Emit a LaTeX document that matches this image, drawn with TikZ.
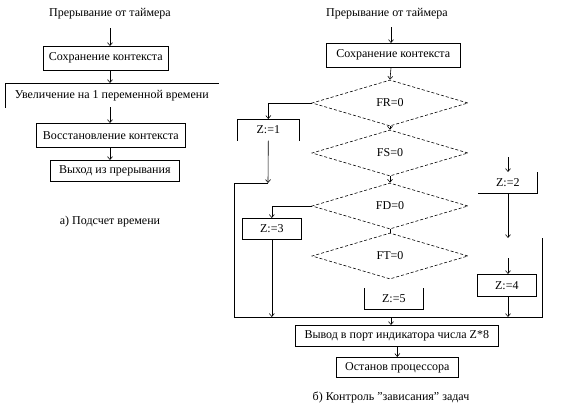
\documentclass[tikz,border=0pt]{standalone}
\usepackage{fontspec}
\setmainfont{Liberation Serif}
\usetikzlibrary{arrows.meta,shapes.geometric}
\begin{document}
\begin{tikzpicture}[x=1pt,y=-1pt,
  line width=0.6pt,
  font=\fontsize{12}{14}\selectfont,
  arr/.style={-{Straight Barb[length=3pt,width=5pt]}},
  box/.style={draw,rectangle,inner sep=0pt,anchor=north west},
  obox/.style={rectangle,inner sep=0pt,anchor=north west},
  dia/.style={draw,diamond,dash pattern=on 3pt off 2pt,inner sep=0pt,minimum width=156pt,minimum height=46pt},
  lbl/.style={inner sep=1pt}
]
\useasboundingbox (0,0) rectangle (561,413);
% ---------- left: a)
\node[lbl] (ltitle) at (110,14) {Прерывание от таймера};
\node[box,minimum width=125pt,minimum height=24pt] (l1) at (43,46) {Сохранение контекста};
\node[obox,minimum width=213pt,minimum height=24pt] (l2) at (5,83) {Увеличение на 1 переменной времени};
\draw (l2.north west) -- (l2.north east);
\draw (l2.north west) -- (l2.south west);
\node[box,minimum width=149pt,minimum height=24pt] (l3) at (36,123) {Восстановление контекста};
\node[box,minimum width=129pt,minimum height=21pt] (l4) at (50,160) {Выход из прерывания};
\node[lbl] (lcap) at (110,222) {а) Подсчет времени};
\coordinate (lt1) at (110,28);
\draw[arr] (lt1) -- (l1.north -| lt1);
\draw[arr] (l1.south -| lt1) -- (l2.north -| lt1);
\draw[arr] (110,107) -- (l3.north -| lt1);
\draw[arr] (l3.south -| lt1) -- (l4.north -| lt1);
% ---------- right: b)
\node[lbl] (rtitle) at (387,14) {Прерывание от таймера};
\node[box,minimum width=134pt,minimum height=24pt] (r1) at (326,43) {Сохранение контекста};
\node[dia] (fr) at (390,103) {FR=0};
\node[dia] (fs) at (390,153) {FS=0};
\node[dia] (fd) at (390,206) {FD=0};
\node[dia] (ft) at (390,256) {FT=0};
\node[obox,minimum width=62pt,minimum height=21pt] (z1) at (237,119) {Z:=1};
\draw (z1.south west) -- (z1.north west) -- (z1.north east) -- (z1.south east);
\node[box,minimum width=59pt,minimum height=21pt] (z3) at (242,218) {Z:=3};
\node[obox,minimum width=59pt,minimum height=21pt] (z5) at (364,288) {Z:=5};
\draw (z5.north west) -- (z5.south west) -- (z5.south east) -- (z5.north east);
\node[obox,minimum width=59pt,minimum height=21pt] (z2) at (478,172) {Z:=2};
\draw (z2.south west) -- (z2.south east) -- (z2.north east);
\node[box,minimum width=59pt,minimum height=22pt] (z4) at (477,274) {Z:=4};
\node[box,minimum width=203pt,minimum height=21pt] (out) at (295,325) {Вывод в порт индикатора числа Z*8};
\node[box,minimum width=122pt,minimum height=20pt] (halt) at (336,357) {Останов процессора};
\node[lbl] (rcap) at (391,397) {б) Контроль \char"22зависания\char"22{} задач};
% connectors
\coordinate (rx) at (391,0);
\draw[arr] (rx |- 0,27) -- (r1.north -| rx);
\draw[arr] (r1.south -| rx) -- (fr.north);
\draw[arr] (fr.south) -- (fs.north);
\draw[arr] (fs.south) -- (fd.north);
\draw (fd.south) -- (ft.north);
\draw[arr] (fr.west) -| (z1.north);
\coordinate (c1) at (268,183);
\coordinate (fl) at (234,183);
\coordinate (fbl) at (234,317);
\coordinate (fbr) at (542,317);
\coordinate (ftr) at (542,238);
\draw[arr] (z1.south) -- (c1);
\draw (c1) -- (fl) -- (fbl) -- (fbr) -- (ftr);
\draw[arr] (fd.west) -| (z3.north);
\draw[arr] (z3.south) -- (z3.south |- fbl);
\draw[arr] (rx |- fbl) -- (out.north -| rx);
\draw[arr] (out.south -| halt.north) -- (halt.north);
\coordinate (a2) at (508,157);
\coordinate (b2) at (508,238);
\coordinate (a4) at (508,258);
\draw[arr] (a2) -- (z2.north -| a2);
\draw[arr] (z2.south -| a2) -- (b2);
\draw[arr] (a4) -- (z4.north -| a4);
\draw[arr] (z4.south -| a4) -- (fbr -| a4);
\end{tikzpicture}
\end{document}
